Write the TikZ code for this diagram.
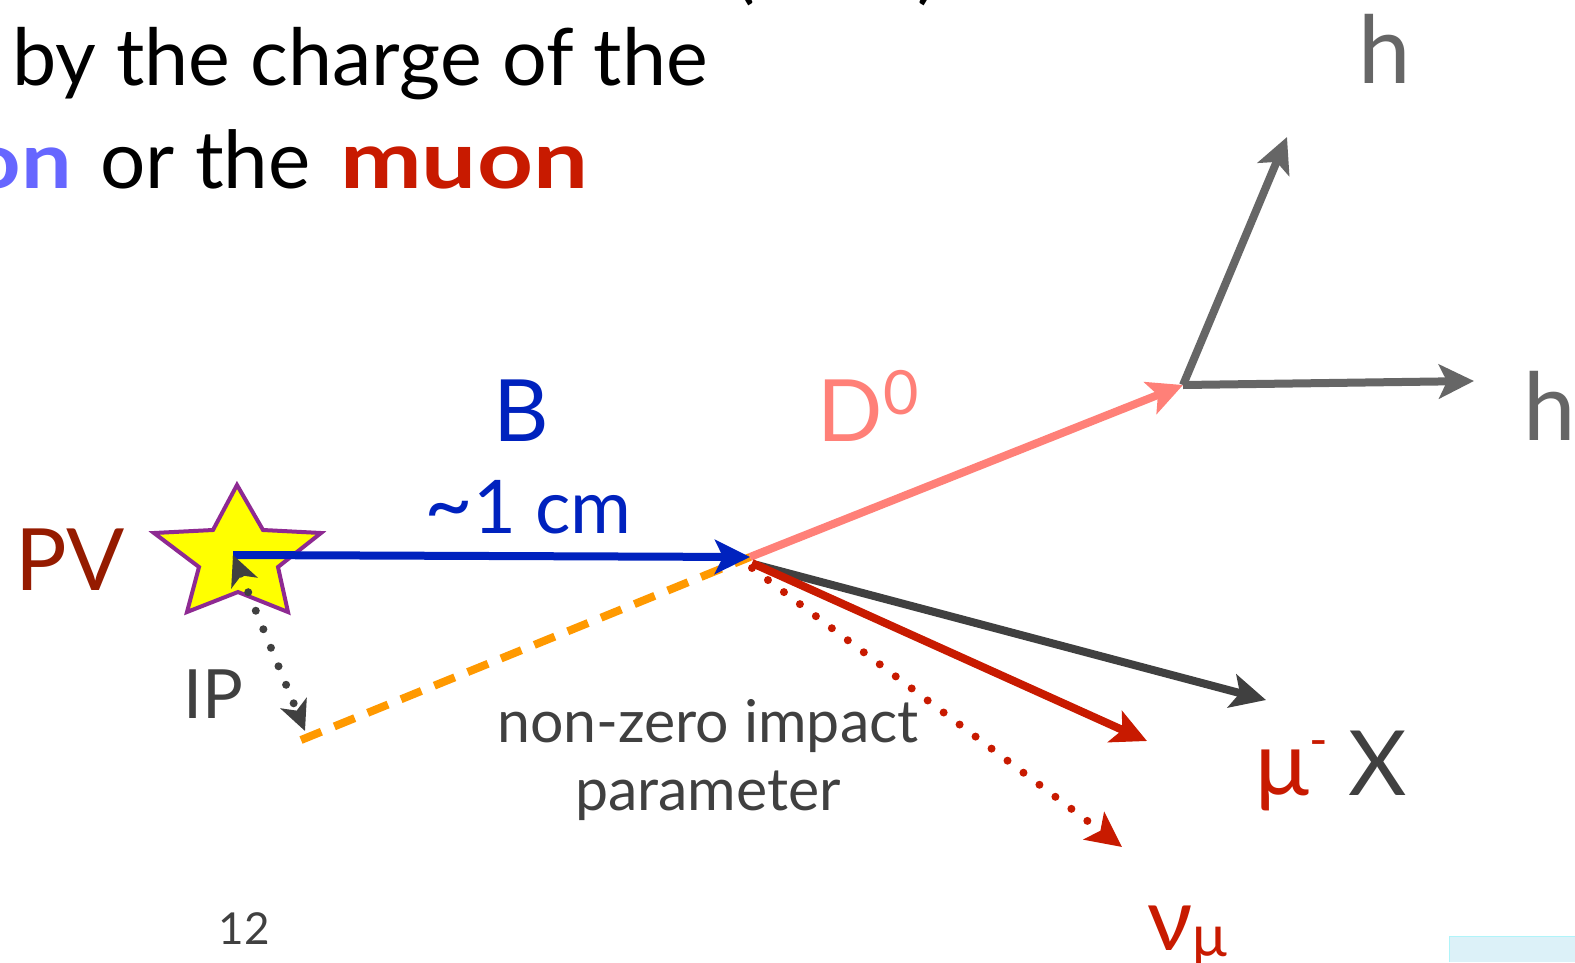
\documentclass[tikz,border=0pt]{standalone}
\usepackage{fontspec}
\setmainfont{Lato}
\usetikzlibrary{arrows.meta}
\definecolor{pvred}{HTML}{951B00}
\definecolor{bblue}{HTML}{0022BE}
\definecolor{dpink}{HTML}{FF8078}
\definecolor{hgray}{HTML}{666666}
\definecolor{dgray}{HTML}{404040}
\definecolor{mured}{HTML}{C81A00}
\definecolor{iporange}{HTML}{FF9900}
\definecolor{starfill}{HTML}{FFFF00}
\definecolor{starline}{HTML}{8E2A92}
\definecolor{kblue}{HTML}{6666FF}
\definecolor{boxblue}{HTML}{DCF1F8}
\newcommand{\myfs}[1]{\fontsize{#1}{#1}\selectfont}
\begin{document}
\begin{tikzpicture}[x=1pt,y=-1pt,
  lbl/.style={inner sep=0pt, anchor=base},
  trk/.style={line width=8pt},
  tipbig/.style={-{Stealth[length=35pt,width=34pt,inset=8pt]}},
  dotline/.style={line width=8pt, line cap=round, dash pattern=on 0pt off 20pt}]
\useasboundingbox (0,0) rectangle (1575,962);
\fill[white] (0,0) rectangle (1575,962);

% top text
\node[lbl, anchor=base] (lp) at (745,-6) {\myfs{78}(};
\node[lbl, anchor=base] (rp) at (928,-6) {\myfs{78})};
\node[lbl, anchor=base west] (line1) at (12,85) {\myfs{79}by the charge of the};
\node[lbl, anchor=base east] (kon) at (72,188) {\myfs{78}\color{kblue}\bfseries\scalebox{1.15}[1]{on}};
\node[lbl, anchor=base west] (orthe) at (100,188) {\myfs{80}or the};
\node[lbl, anchor=base west] (muon) at (340,188) {\myfs{80}\color{mured}\bfseries\scalebox{1.22}[1]{muon}};

% bottom right box
\fill[boxblue] (1449,936) rectangle (1575,962);
\draw[boxblue!80!cyan, line width=1pt] (1449,962) -- (1449,936) -- (1575,936);

% vertices
\coordinate (pv) at (233,555);
\coordinate (bv) at (750,557);
\coordinate (dv) at (1183,385);
\coordinate (h1end) at (1287,137);
\coordinate (h2end) at (1474,381);
\coordinate (xend) at (1266,700);
\coordinate (muend) at (1147,741);
\coordinate (nuend) at (1122,847);
\coordinate (ipend) at (301,740);
\coordinate (iptip) at (305,731);

% star
\filldraw[fill=starfill, draw=starline, line width=4pt, line join=miter]
  (237,485) -- (263,530) -- (321,533) -- (278,567) -- (288,612) -- (238,592)
  -- (187,612) -- (199,567) -- (154,533) -- (213,530) -- cycle;

% tracks
\draw[iporange, line width=8pt, dash pattern=on 22pt off 14pt] (ipend) -- (bv);
\draw[dpink, trk, tipbig] (bv) -- (dv);
\draw[hgray, trk, tipbig] (dv) -- (h1end);
\draw[hgray, trk, tipbig] (dv) -- (h2end);
\draw[dgray, trk, tipbig] ([shift={(7,8)}]bv) -- (xend);
\draw[mured, trk, tipbig] ([shift={(2,6)}]bv) -- (muend);
\draw[mured, dotline, -{Stealth[length=35pt,width=34pt,inset=8pt]}] ([shift={(2,11)}]bv) -- (nuend);
\draw[bblue, trk, tipbig] (pv) -- (bv);
\draw[dgray, dotline, {Stealth[length=30pt,width=28pt,inset=8pt]}-{Stealth[length=30pt,width=28pt,inset=8pt]}] (pv) -- (iptip);

% labels
\node[lbl, text=pvred] (pvl) at (70,590) {\myfs{86}PV};
\node[lbl, text=bblue] (bl) at (521,441) {\myfs{86}B};
\node[lbl, text=bblue] (cml) at (528,533) {\myfs{74}{\myfs{84}\textasciitilde}1 cm};
\node[lbl, text=dpink] (dl) at (868,441) {\myfs{86}D\raisebox{27pt}{\myfs{61}0}};
\node[lbl, text=hgray] (h1l) at (1385,83) {\myfs{94}h};
\node[lbl, text=hgray] (h2l) at (1550,440) {\myfs{94}h};
\node[lbl, text=mured] (mul) at (1292,795) {\myfs{90}μ\raisebox{38pt}{\myfs{50}-}};
\node[lbl, text=dgray] (xl) at (1378,795) {\myfs{90}X};
\node[lbl, text=mured] (nul) at (1187,950) {\myfs{88}ν\raisebox{-6pt}{\myfs{58}μ}};
\node[lbl, text=dgray] (ipl) at (213,718) {\myfs{68}IP};
\node[lbl, text=dgray] (nz1) at (708,742) {\myfs{59}non-zero impact};
\node[lbl, text=dgray] (nz2) at (708,810) {\myfs{59}parameter};
\node[lbl, text=dgray] (pg) at (244,944) {\myfs{44}12};
\end{tikzpicture}
\end{document}
